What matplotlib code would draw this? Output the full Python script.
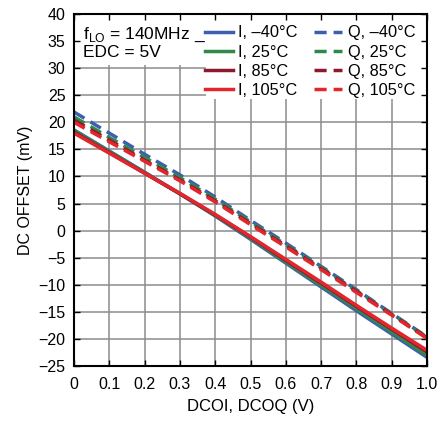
import numpy as np
import matplotlib
matplotlib.use('Agg')
from matplotlib import pyplot as plt
from matplotlib.patches import Rectangle

plt.rcParams['font.family'] = ['Liberation Sans', 'DejaVu Sans']
plt.rcParams['font.size'] = 11

# control voltage (V)
dco = [0.0, 0.1, 0.2, 0.3, 0.4, 0.5, 0.6, 0.7, 0.8, 0.9, 1.0]

# I channel offsets (mV)
i_m40 = [18.6, 14.7, 10.8, 6.8, 2.7, -1.6, -6.0, -10.4, -14.8, -19.1, -23.4]
i_25 = [18.5, 14.6, 10.7, 6.8, 2.8, -1.4, -5.8, -10.1, -14.4, -18.7, -23.0]
i_85 = [18.2, 14.4, 10.6, 6.8, 2.9, -1.2, -5.5, -9.7, -14.0, -18.2, -22.4]
i_105 = [18.0, 14.3, 10.6, 6.9, 3.0, -1.1, -5.3, -9.5, -13.8, -18.0, -22.1]

# Q channel offsets (mV)
q_m40 = [21.9, 18.0, 14.1, 10.3, 6.2, 1.9, -2.3, -6.6, -10.9, -15.3, -19.6]
q_25 = [21.0, 17.2, 13.5, 9.8, 5.8, 1.6, -2.6, -6.8, -11.1, -15.4, -19.7]
q_85 = [20.4, 16.7, 13.0, 9.4, 5.5, 1.3, -2.8, -7.0, -11.2, -15.5, -19.8]
q_105 = [20.0, 16.4, 12.8, 9.2, 5.3, 1.1, -3.0, -7.2, -11.4, -15.6, -19.9]

temps = ['\u201340°C', '25°C', '85°C', '105°C']
colors = ['#3d5fae', '#2f8a4a', '#8c1a2e', '#e3262e']
i_series = [i_m40, i_25, i_85, i_105]
q_series = [q_m40, q_25, q_85, q_105]

xticks = np.round(np.arange(0, 1.01, 0.1), 1)
yticks = np.arange(-25, 41, 5)

fig = plt.figure(figsize=(4.37, 4.21), dpi=100)
ax = fig.add_axes([74 / 437, 1 - 366 / 421, 353 / 437, 352 / 421])

# grid drawn by hand so the white boxes can cover it but not the ticks
ax.vlines(xticks, -25, 40, color='#8c8c8c', lw=1.1, zorder=0.5)
ax.hlines(yticks, 0, 1, color='#8c8c8c', lw=1.1, zorder=0.5)

# white areas behind annotation and legend
ax.add_patch(Rectangle((0, 0.855), 0.375, 0.145, transform=ax.transAxes,
                       facecolor='white', edgecolor='none', zorder=1))
ax.add_patch(Rectangle((0.375, 0.758), 0.625, 0.242, transform=ax.transAxes,
                       facecolor='white', edgecolor='none', zorder=1))

handles_i = []
handles_q = []
for t, c, ys in zip(temps, colors, i_series):
    h, = ax.plot(dco, ys, color=c, lw=2.5, label='I, ' + t, zorder=2)
    handles_i.append(h)
for t, c, ys in zip(temps, colors, q_series):
    h, = ax.plot(dco, ys, color=c, lw=2.5, dashes=(3.5, 2), label='Q, ' + t, zorder=2.1)
    handles_q.append(h)

ax.set_xlim(0, 1)
ax.set_ylim(-25, 40)
ax.set_xticks(xticks)
ax.set_xticklabels(['0'] + ['%.1f' % v for v in xticks[1:]])
ax.set_yticks(yticks)
ax.tick_params(direction='in', length=4, width=1, top=True, right=True, labelsize=11.5)
ax.tick_params(axis='x', pad=8)
ax.tick_params(axis='y', pad=6)
for s in ax.spines.values():
    s.set_linewidth(1.5)
    s.set_zorder(3)

ax.set_xlabel('DCOI, DCOQ (V)', fontsize=12, labelpad=5)
ax.set_ylabel('DC OFFSET (mV)', fontsize=11.5, labelpad=4)

ax.text(0.025, 0.968, 'f$_{\\mathregular{LO}}$ = 140MHz _\nEDC = 5V', transform=ax.transAxes,
        ha='left', va='top', fontsize=12.5, linespacing=1.15, zorder=4)

leg = ax.legend(handles_i + handles_q, [h.get_label() for h in handles_i + handles_q],
                ncol=2, loc='upper right', bbox_to_anchor=(1.0, 1.0), frameon=False,
                fontsize=11.8, handlelength=1.7, handletextpad=0.35, columnspacing=1.0,
                labelspacing=0.25, borderaxespad=0.3, borderpad=0.4)
leg.set_zorder(4)

fig.savefig('out.png', dpi=100)
